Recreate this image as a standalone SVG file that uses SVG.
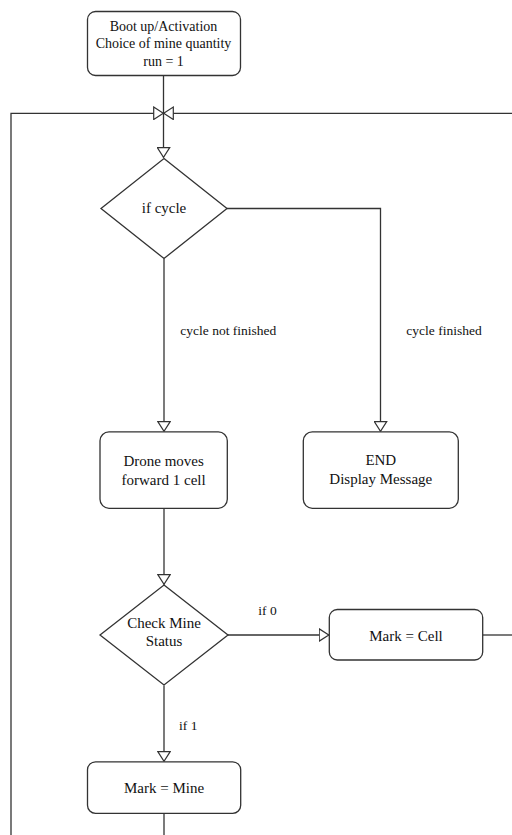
<svg xmlns="http://www.w3.org/2000/svg" width="512" height="835" viewBox="0 0 512 835">
<style>
.box{fill:#fff;stroke:#333;stroke-width:1.3}
.ln{fill:none;stroke:#333;stroke-width:1.3}
.t{font-family:'Liberation Serif','DejaVu Serif',serif;font-size:15px;fill:#111;text-anchor:middle}
.s{font-size:14px}
.l{font-family:'Liberation Serif','DejaVu Serif',serif;font-size:13.5px;fill:#111;text-anchor:middle}
</style>
<defs>
<marker id="ar" viewBox="0 0 11 14" refX="10.5" refY="7" markerWidth="11" markerHeight="14" markerUnits="userSpaceOnUse" orient="auto">
<path d="M0.7,0.8 L10.3,7 L0.7,13.2 Z" fill="#fff" stroke="#333" stroke-width="1.2"/>
</marker>
</defs>
<rect width="512" height="835" fill="#fff"/>
<g id="connectors">
<path class="ln" d="M163.5,75.5 V157.5" marker-end="url(#ar)"/>
<path class="ln" d="M512,113.3 H163.5" marker-end="url(#ar)"/>
<path class="ln" d="M11,835 V113.3 H163.5" marker-end="url(#ar)"/>
<path class="ln" d="M164,258.5 V431.5" marker-end="url(#ar)"/>
<path class="ln" d="M227,208.5 H380.5 V431.5" marker-end="url(#ar)"/>
<path class="ln" d="M164,508.5 V584.5" marker-end="url(#ar)"/>
<path class="ln" d="M228,635 H329" marker-end="url(#ar)"/>
<path class="ln" d="M164,685.5 V761.5" marker-end="url(#ar)"/>
<path class="ln" d="M164,813.5 V835"/>
<path class="ln" d="M483,635 H512"/>
<text class="l" x="228.3" y="335">cycle not finished</text>
<text class="l" x="444" y="335">cycle finished</text>
<text class="l" x="267.5" y="614.5">if 0</text>
<text class="l" x="188.3" y="730">if 1</text>
</g>
<g id="boot">
<rect class="box" x="87.5" y="11.5" width="153" height="64" rx="8"/>
<text class="t s" x="163.5" y="30.7">Boot up/Activation</text>
<text class="t s" x="163.5" y="48.2">Choice of mine quantity</text>
<text class="t s" x="163.5" y="65.7">run = 1</text>
</g>
<g id="ifcycle">
<path class="box" d="M164,158.5 L227,208.5 L164,258.5 L101,208.5 Z"/>
<text class="t" x="164" y="212.8">if cycle</text>
</g>
<g id="drone">
<rect class="box" x="100" y="431.8" width="127.3" height="76.5" rx="9"/>
<text class="t" x="163.6" y="466">Drone moves</text>
<text class="t" x="163.6" y="484.8">forward 1 cell</text>
</g>
<g id="end">
<rect class="box" x="303.3" y="431.8" width="155" height="76.5" rx="9"/>
<text class="t" x="380.8" y="465.3">END</text>
<text class="t" x="380.8" y="484">Display Message</text>
</g>
<g id="check">
<path class="box" d="M164,585 L228,635 L164,685 L100,635 Z"/>
<text class="t" x="164" y="627.8">Check Mine</text>
<text class="t" x="164" y="646.3">Status</text>
</g>
<g id="markcell">
<rect class="box" x="329.3" y="609.5" width="153.4" height="50.5" rx="8"/>
<text class="t" x="406" y="640.7">Mark = Cell</text>
</g>
<g id="markmine">
<rect class="box" x="87.5" y="761.8" width="153.2" height="51.5" rx="8"/>
<text class="t" x="164" y="793.3">Mark = Mine</text>
</g>
</svg>
